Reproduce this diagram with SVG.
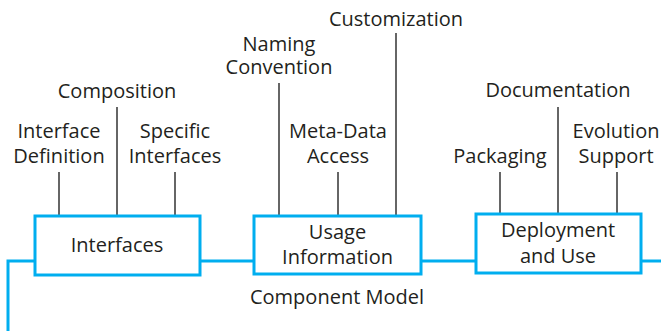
<svg xmlns="http://www.w3.org/2000/svg" width="661" height="331" viewBox="0 0 661 331">
<style>
.box{fill:#fff;stroke:#00aeef;stroke-width:3}
.bl{fill:none;stroke:#00aeef;stroke-width:3}
.ln{stroke:#333;stroke-width:1.5;fill:none}
text{font-family:"Open Sans","Noto Sans",sans-serif;font-size:20px;fill:#231f20;text-anchor:middle}
</style>
<rect width="661" height="331" fill="#fff"/>
<g id="connectors">
<polyline class="bl" points="8,331 8,261 35,261"/>
<line class="bl" x1="200" y1="261" x2="254" y2="261"/>
<line class="bl" x1="421" y1="261" x2="476" y2="261"/>
<line class="bl" x1="641" y1="261" x2="661" y2="261"/>
<line class="ln" x1="59" y1="172" x2="59" y2="216"/>
<line class="ln" x1="117" y1="107" x2="117" y2="216"/>
<line class="ln" x1="175" y1="172" x2="175" y2="216"/>
<line class="ln" x1="279" y1="83" x2="279" y2="216"/>
<line class="ln" x1="338" y1="172" x2="338" y2="216"/>
<line class="ln" x1="396" y1="33" x2="396" y2="216"/>
<line class="ln" x1="500" y1="172" x2="500" y2="214"/>
<line class="ln" x1="558" y1="107" x2="558" y2="214"/>
<line class="ln" x1="617" y1="172" x2="617" y2="214"/>
</g>
<g id="interfaces">
<rect class="box" x="35" y="216" width="165" height="59"/>
<text x="117" y="252">Interfaces</text>
</g>
<g id="usage">
<rect class="box" x="254" y="216" width="167" height="58"/>
<text x="337.5" y="239">Usage</text>
<text x="337.5" y="264">Information</text>
</g>
<g id="deployment">
<rect class="box" x="476" y="214" width="165" height="59"/>
<text x="558" y="237">Deployment</text>
<text x="558" y="263">and Use</text>
</g>
<g id="labels">
<text x="337" y="304">Component Model</text>
<text x="59" y="138">Interface</text>
<text x="59" y="163">Definition</text>
<text x="117" y="98">Composition</text>
<text x="175" y="138">Specific</text>
<text x="175" y="163">Interfaces</text>
<text x="279" y="51">Naming</text>
<text x="279" y="74">Convention</text>
<text x="338" y="138">Meta-Data</text>
<text x="338" y="163">Access</text>
<text x="396" y="26">Customization</text>
<text x="500" y="163">Packaging</text>
<text x="558" y="97">Documentation</text>
<text x="616" y="138">Evolution</text>
<text x="616" y="163">Support</text>
</g>
</svg>
